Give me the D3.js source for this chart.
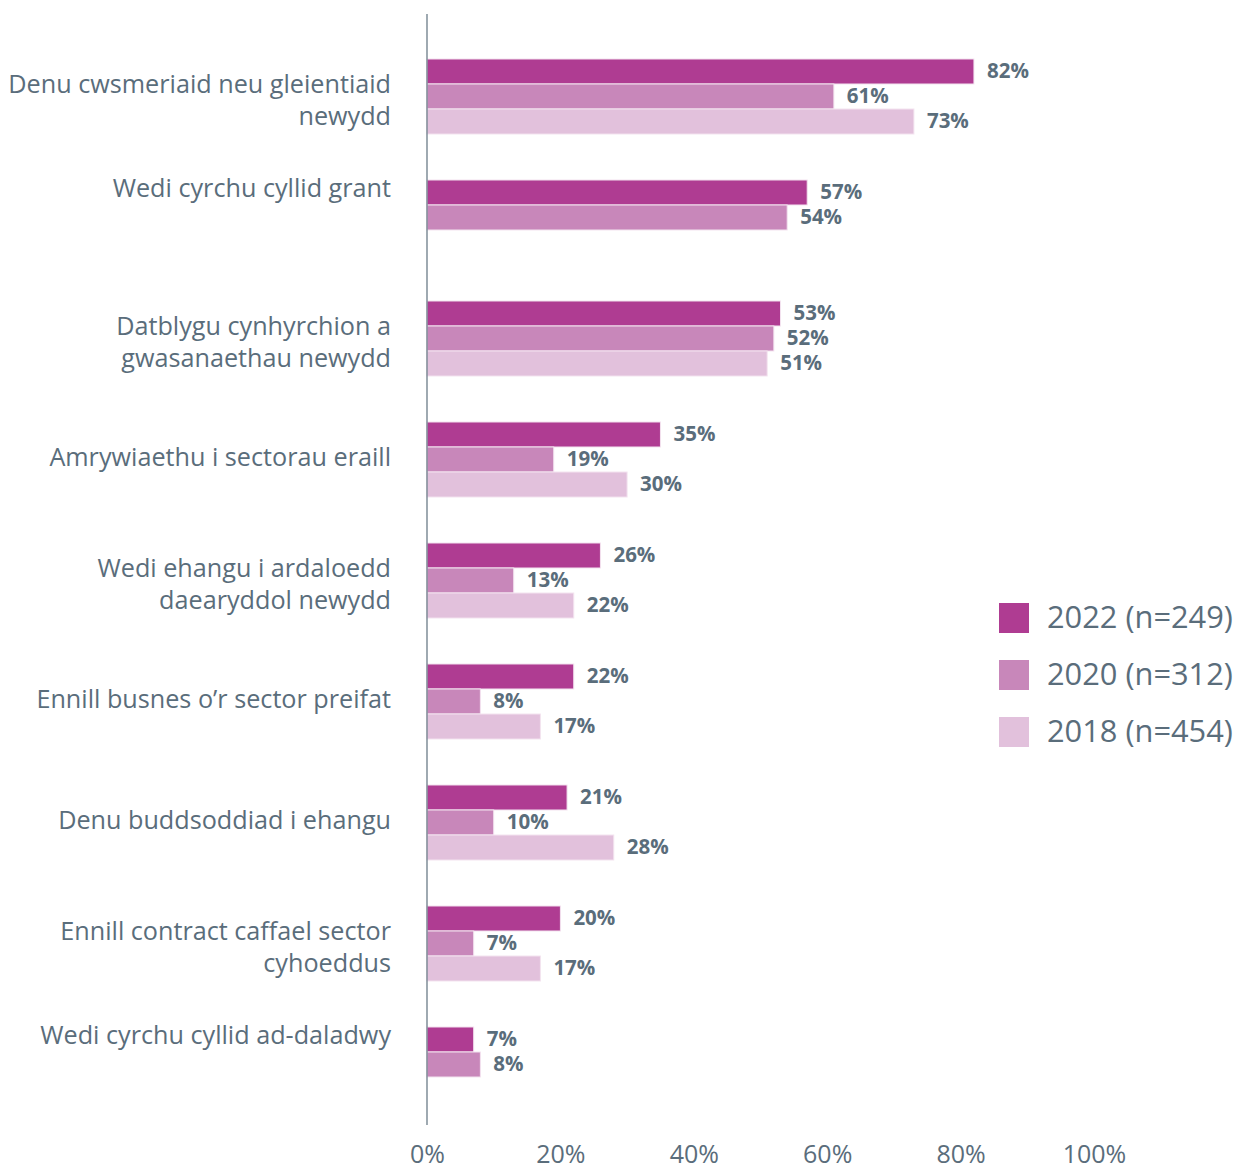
<!DOCTYPE html>
<html><head><meta charset="utf-8">
<script src="https://cdn.jsdelivr.net/npm/d3@7"></script>
<style>body{margin:0;background:#fff;}svg{display:block;}</style>
</head><body>
<svg id="chart" width="1240" height="1171"></svg>
<script>
const categories = [
  "Denu cwsmeriaid neu gleientiaid|newydd",
  "Wedi cyrchu cyllid grant",
  "Datblygu cynhyrchion a|gwasanaethau newydd",
  "Amrywiaethu i sectorau eraill",
  "Wedi ehangu i ardaloedd|daearyddol newydd",
  "Ennill busnes o’r sector preifat",
  "Denu buddsoddiad i ehangu",
  "Ennill contract caffael sector|cyhoeddus",
  "Wedi cyrchu cyllid ad-daladwy"
];
const seriesNames = ["2022 (n=249)", "2020 (n=312)", "2018 (n=454)"];
const values2022 = [82, 57, 53, 35, 26, 22, 21, 20, 7];
const values2020 = [61, 54, 52, 19, 13, 8, 10, 7, 8];
const values2018 = [73, null, 51, 30, 22, 17, 28, 17, null];
const colors = ["#af3c92", "#c887ba", "#e2c1dc"];
const xTicks = [0, 20, 40, 60, 80, 100];

const textColor = "#5a6d7b";
const font = "'Open Sans', 'Noto Sans', sans-serif";
const seriesValues = [values2022, values2020, values2018];

const svg = d3.select("#chart");
const x = d3.scaleLinear().domain([0, 100]).range([427, 1094]);
const y = d3.scaleBand().domain(categories).range([36, 1125]).paddingInner(0.38).paddingOuter(0.19);
const ySub = d3.scaleBand().domain(seriesNames).range([0, y.bandwidth()]);

// bars
categories.forEach((cat, ci) => {
  const g = svg.append("g").attr("transform", `translate(0,${y(cat)})`);
  seriesNames.forEach((s, si) => {
    const v = seriesValues[si][ci];
    if (v == null) return;
    g.append("rect")
      .attr("x", x(0)).attr("y", ySub(s))
      .attr("width", x(v) - x(0)).attr("height", ySub.bandwidth())
      .attr("fill", colors[si])
      .attr("stroke", "#f3e3ef").attr("stroke-width", 1);
    g.append("text")
      .attr("x", x(v) + 13).attr("y", ySub(s) + ySub.bandwidth() / 2 - 1)
      .attr("dy", "0.36em")
      .attr("font-family", font).attr("font-weight", 700).attr("font-size", 20.5)
      .attr("fill", textColor)
      .text(v + "%");
  });
  // category label
  const lines = cat.split("|");
  const missing = seriesValues.some(arr => arr[ci] == null);
  const cy = missing ? y(cat) + 8 : y(cat) + y.bandwidth() / 2 + (lines.length > 1 ? 4 : -2);
  const lh = 32;
  const t = svg.append("text")
    .attr("text-anchor", "end")
    .attr("font-family", font).attr("font-size", 25.2)
    .attr("fill", textColor);
  lines.forEach((ln, li) => {
    t.append("tspan")
      .attr("x", 391)
      .attr("y", cy + (li - (lines.length - 1) / 2) * lh)
      .attr("dy", "0.35em")
      .text(ln);
  });
});

// vertical axis line
svg.append("line")
  .attr("x1", x(0)).attr("x2", x(0))
  .attr("y1", 14).attr("y2", 1125)
  .attr("stroke", "#6b7c88").attr("stroke-width", 1.3);

// x axis labels
const xAxis = d3.axisBottom(x).tickValues(xTicks).tickSize(0).tickPadding(0).tickFormat(d => d + "%");
const ax = svg.append("g").attr("transform", "translate(0,1163)").call(xAxis);
ax.select(".domain").remove();
ax.selectAll("text")
  .attr("font-family", font).attr("font-size", 25)
  .attr("fill", textColor)
  .attr("y", 0)
  .attr("dy", "0");

// legend
const legend = svg.append("g");
seriesNames.forEach((s, i) => {
  const ly = 603 + i * 57;
  legend.append("rect").attr("x", 999).attr("y", ly).attr("width", 30).attr("height", 30).attr("fill", colors[i]);
  legend.append("text").attr("x", 1047).attr("y", ly + 14).attr("dy", "0.35em")
    .attr("font-family", font).attr("font-size", 30.8).attr("fill", textColor).text(s);
});
</script>
</body></html>
